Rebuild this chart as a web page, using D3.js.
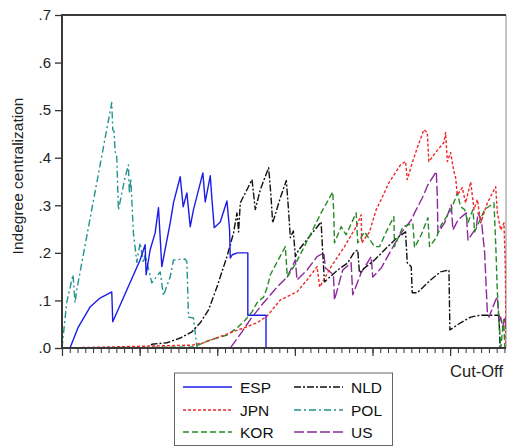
<!DOCTYPE html>
<html>
<head>
<meta charset="utf-8">
<script src="https://cdn.jsdelivr.net/npm/d3@7"></script>
<style>
  html, body { margin: 0; padding: 0; background: #fff; }
  svg { display: block; font-family: "Liberation Sans", Arial, sans-serif; }
</style>
</head>
<body>
<svg id="chart" width="508" height="447"></svg>
<script>
// ---------- data (x = cut-off step, y = indegree centralization) ----------
const seriesNames = ["ESP", "JPN", "KOR", "NLD", "POL", "US"];
const yTickValues = [0, 0.1, 0.2, 0.3, 0.4, 0.5, 0.6, 0.7];
const yTickLabels = [".0", ".1", ".2", ".3", ".4", ".5", ".6", ".7"];
const xAxisTitle = "Cut-Off";
const yAxisTitle = "Indegree centralization";

const ESP = [[0,0],[1.03,0],[2.1,0.044],[3.61,0.086],[4.9,0.105],[6.41,0.118],[6.54,0.055],[8.35,0.122],[10.06,0.185],[10.71,0.217],[10.84,0.154],[11.35,0.206],[12.0,0.242],[12.43,0.295],[12.86,0.171],[13.94,0.263],[14.36,0.305],[15.23,0.36],[15.61,0.297],[16.09,0.326],[16.52,0.255],[16.94,0.291],[18.15,0.368],[18.45,0.307],[19.1,0.362],[19.32,0.312],[19.61,0.253],[20.39,0.265],[21.25,0.309],[21.59,0.248],[21.68,0.189],[21.94,0.196],[22.58,0.2],[23.94,0.2],[23.94,0.069],[26.28,0.069],[26.28,0],[57.2,0]];

const JPN = [[0,0],[16.74,0.006],[18.23,0.011],[20.17,0.023],[21.68,0.032],[23.39,0.042],[25.12,0.053],[26.41,0.067],[28.13,0.101],[30.28,0.118],[31.57,0.143],[32.86,0.171],[33.2,0.128],[34.67,0.171],[36.39,0.213],[37.9,0.255],[38.54,0.28],[38.62,0.221],[39.61,0.244],[40.48,0.291],[41.12,0.312],[42.1,0.347],[43.61,0.385],[44.26,0.392],[44.48,0.354],[45.12,0.389],[45.77,0.421],[46.62,0.459],[47.06,0.453],[47.26,0.392],[48.13,0.411],[49.2,0.432],[49.42,0.453],[49.64,0.392],[50.06,0.411],[50.49,0.371],[50.71,0.358],[50.93,0.322],[51.57,0.337],[52.0,0.305],[52.65,0.349],[53.08,0.291],[53.51,0.312],[53.94,0.263],[54.8,0.305],[55.87,0.339],[56.09,0.284],[56.52,0.248],[56.94,0.263],[57.1,0.179],[57.15,0.122],[57.2,0]];

const KOR = [[0,0],[16.94,0.002],[19.1,0.017],[21.25,0.027],[22.54,0.042],[23.61,0.059],[24.48,0.076],[25.12,0.095],[25.97,0.107],[26.41,0.126],[26.84,0.154],[28.77,0.213],[29.03,0.149],[30.15,0.179],[31.65,0.227],[33.38,0.284],[34.88,0.328],[35.01,0.284],[35.1,0.221],[35.96,0.255],[36.61,0.238],[37.9,0.284],[38.1,0.221],[38.97,0.244],[40.26,0.213],[40.9,0.213],[41.77,0.244],[42.75,0.276],[42.84,0.213],[43.91,0.255],[45.2,0.262],[45.42,0.211],[46.28,0.238],[47.14,0.274],[47.35,0.213],[48.22,0.232],[48.86,0.259],[50.15,0.291],[50.93,0.326],[51.35,0.297],[51.87,0.291],[52.3,0.263],[52.94,0.291],[53.16,0.244],[54.45,0.291],[55.65,0.305],[55.87,0.221],[56.09,0.116],[56.52,0],[56.9,0.06],[57.05,0],[57.2,0]];

const NLD = [[0,0],[11.35,0],[11.57,0.008],[13.51,0.011],[15.23,0.021],[16.74,0.034],[17.81,0.053],[18.88,0.08],[19.96,0.128],[21.25,0.192],[22.1,0.242],[22.54,0.284],[22.75,0.244],[22.97,0.305],[24.48,0.354],[24.9,0.291],[25.55,0.333],[26.62,0.379],[26.93,0.318],[27.14,0.263],[28.13,0.316],[28.9,0.352],[29.16,0.295],[29.42,0.232],[29.81,0.246],[30.06,0.192],[30.49,0.206],[33.38,0.265],[33.59,0.2],[33.81,0.139],[35.52,0.164],[36.81,0.179],[37.68,0.202],[38.1,0.206],[38.32,0.158],[38.97,0.168],[40.26,0.185],[41.97,0.213],[43.19,0.232],[44.26,0.244],[44.48,0.179],[44.99,0.171],[45.12,0.116],[45.77,0.116],[47.48,0.143],[48.77,0.16],[49.85,0.164],[49.97,0.038],[51.35,0.053],[52.65,0.065],[53.94,0.069],[56.3,0.069],[56.43,0],[57.2,0]];

const POL = [[0,0],[0.6,0.095],[1.42,0.154],[1.68,0.095],[1.9,0.122],[6.41,0.516],[6.54,0.459],[6.71,0.455],[6.84,0.413],[7.05,0.403],[7.27,0.29],[8.06,0.354],[8.55,0.385],[8.68,0.325],[8.86,0.356],[9.2,0.242],[9.64,0.18],[10.06,0.221],[10.49,0.179],[10.71,0.196],[11.57,0.137],[12.65,0.16],[13.07,0.11],[13.94,0.15],[14.36,0.185],[15.87,0.187],[16.09,0.181],[16.3,0.065],[16.94,0.063],[17.38,0.002],[17.5,0],[57.2,0]];

const US = [[0,0],[21.68,0],[23.19,0.034],[24.48,0.065],[25.97,0.095],[27.7,0.128],[28.99,0.149],[30.06,0.185],[30.28,0.143],[31.57,0.164],[32.86,0.192],[33.72,0.2],[33.94,0.168],[34.97,0.154],[35.1,0.101],[36.17,0.164],[37.25,0.179],[37.46,0.112],[38.54,0.158],[39.83,0.192],[40.04,0.149],[41.12,0.168],[42.41,0.206],[43.7,0.242],[44.99,0.269],[45.42,0.284],[46.49,0.318],[47.14,0.343],[48.22,0.371],[48.35,0.318],[48.43,0.242],[49.29,0.263],[50.15,0.301],[50.36,0.248],[51.01,0.269],[52.09,0.284],[52.3,0.227],[53.38,0.253],[53.59,0.284],[54.03,0.269],[54.45,0.2],[54.8,0.074],[55.01,0.065],[55.87,0.101],[56.09,0.107],[56.3,0.053],[56.52,0.065],[56.74,0.044],[57.1,0.065],[57.2,0.032]];

const seriesData = { ESP, JPN, KOR, NLD, POL, US };
const xDomain = [0, 57.2];
const yDomain = [0, 0.7];

// ---------- styles ----------
const colors = { ESP: "#1c1ce8", JPN: "#f02828", KOR: "#258a25", NLD: "#111111", POL: "#23938e", US: "#8c2a9c" };
const dashes = { ESP: null, JPN: "3,2", KOR: "6,3", NLD: "7,2,2,2", POL: "7,3,2,3", US: "10,3" };

const svg = d3.select("#chart");
const m = { left: 62, top: 15, right: 506, bottom: 348 };

const x = d3.scaleLinear().domain(xDomain).range([m.left, m.right]);
const y = d3.scaleLinear().domain(yDomain).range([m.bottom, m.top]);

// clip
svg.append("defs").append("clipPath").attr("id", "clip")
  .append("rect").attr("x", m.left).attr("y", m.top - 2)
  .attr("width", m.right - m.left).attr("height", m.bottom - m.top + 2);

// frame right
svg.append("line").attr("x1", m.right).attr("x2", m.right).attr("y1", m.top).attr("y2", m.bottom)
  .attr("stroke", "#8a8a8a").attr("stroke-width", 1);

// lines
const line = d3.line().x(d => x(d[0])).y(d => y(d[1]));
const g = svg.append("g").attr("clip-path", "url(#clip)");
["US", "POL", "NLD", "KOR", "JPN", "ESP"].forEach(name => {
  g.append("path")
    .datum(seriesData[name])
    .attr("d", line)
    .attr("fill", "none")
    .attr("stroke", colors[name])
    .attr("stroke-width", 1.4)
    .attr("stroke-dasharray", dashes[name])
    .attr("stroke-linejoin", "round");
});

// y axis
const yAxis = d3.axisLeft(y).tickValues(yTickValues)
  .tickFormat((d, i) => yTickLabels[i]).tickSize(7).tickPadding(4);
const ya = svg.append("g").attr("transform", `translate(${m.left},0)`).call(yAxis);
ya.select(".domain").remove();
ya.selectAll(".tick line").attr("stroke", "#333").attr("stroke-width", 1.3);
ya.selectAll(".tick text").attr("font-size", 15).attr("fill", "#222")
  .attr("font-family", "Liberation Sans, Arial, sans-serif");

// x axis: minor + major ticks, no labels
const xMinor = d3.axisBottom(x).tickValues(d3.range(0, 58, 1)).tickSize(5).tickFormat("");
const xm = svg.append("g").attr("transform", `translate(0,${m.bottom})`).call(xMinor);
xm.select(".domain").remove();
xm.selectAll(".tick line").attr("stroke", "#333").attr("stroke-width", 1);
const xMajor = d3.axisBottom(x).tickValues(d3.range(0, 58, 10)).tickSize(8).tickFormat("");
const xM = svg.append("g").attr("transform", `translate(0,${m.bottom})`).call(xMajor);
xM.select(".domain").remove();
xM.selectAll(".tick line").attr("stroke", "#333").attr("stroke-width", 1.2);

// frame left, top, bottom
svg.append("line").attr("x1", m.left).attr("x2", m.right).attr("y1", m.top).attr("y2", m.top)
  .attr("stroke", "#3a3a3a").attr("stroke-width", 2);
svg.append("line").attr("x1", m.left).attr("x2", m.left).attr("y1", m.top - 1).attr("y2", m.bottom + 1)
  .attr("stroke", "#3a3a3a").attr("stroke-width", 2);
svg.append("line").attr("x1", m.left).attr("x2", m.right).attr("y1", m.bottom).attr("y2", m.bottom)
  .attr("stroke", "#3a3a3a").attr("stroke-width", 2);

// titles
svg.append("text").attr("x", 503).attr("y", 377).attr("text-anchor", "end")
  .attr("font-size", 16.5).attr("fill", "#222").text(xAxisTitle);
svg.append("text").attr("transform", "translate(23,176) rotate(-90)")
  .attr("text-anchor", "middle").attr("font-size", 15.5).attr("fill", "#222").text(yAxisTitle);

// legend
const leg = svg.append("g");
leg.append("rect").attr("x", 174.5).attr("y", 373).attr("width", 218).attr("height", 72.5)
  .attr("fill", "#fff").attr("stroke", "#666").attr("stroke-width", 1);
const legPos = {
  ESP: [183, 387], JPN: [183, 410], KOR: [183, 432],
  NLD: [294, 387], POL: [294, 410], US: [294, 432]
};
seriesNames.forEach(name => {
  const [lx, ly] = legPos[name];
  leg.append("line").attr("x1", lx).attr("x2", lx + 49).attr("y1", ly).attr("y2", ly)
    .attr("stroke", colors[name]).attr("stroke-width", 1.3)
    .attr("stroke-dasharray", dashes[name]);
  leg.append("text").attr("x", lx + 57).attr("y", ly + 5.5)
    .attr("font-size", 15.5).attr("fill", "#111").text(name);
});
</script>
</body>
</html>
